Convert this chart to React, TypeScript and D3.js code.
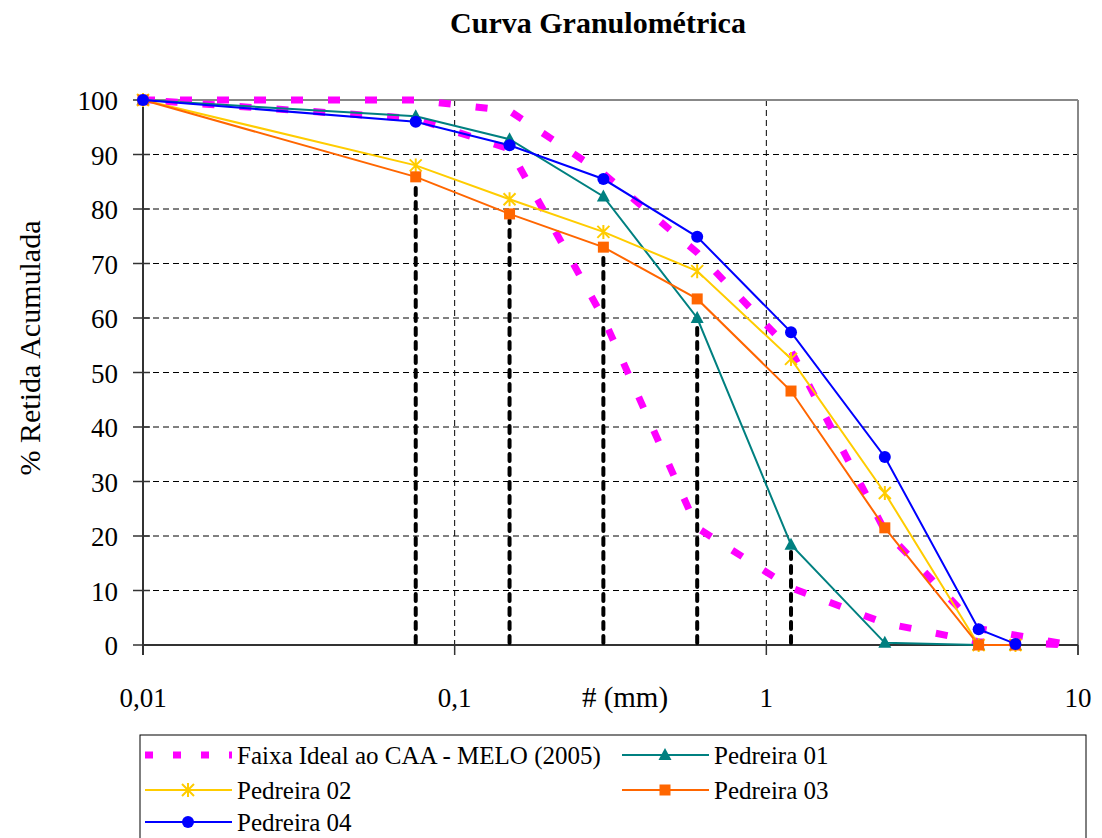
import React from 'react';
import * as d3 from 'd3';

// sieve openings (mm)
const sieves = [0.01, 0.075, 0.15, 0.3, 0.6, 1.2, 2.4, 4.8, 6.3];

const pedreira01 = [100, 97, 92.8, 82.3, 60, 18.4, 0.4, 0, 0];
const pedreira02 = [100, 88, 81.8, 75.8, 68.6, 52.5, 27.9, 0, 0];
const pedreira03 = [100, 85.9, 79.1, 73, 63.5, 46.6, 21.5, 0, 0];
const pedreira04 = [100, 96, 91.7, 85.5, 74.9, 57.4, 34.5, 2.9, 0.2];

// ideal band (upper and lower limits)
const faixaX = [0.01, 0.075, 0.15, 0.3, 0.6, 1.2, 2.4, 4.8, 9.5];
const faixaSup = [100, 100, 98, 86.5, 72, 54, 21, 3, 0];
const faixaInf = [100, 96.6, 91, 60, 21.5, 10.5, 4, 0.6, 0];

const dropSieves = [0.075, 0.15, 0.3, 0.6, 1.2];

const yTicks = [0, 10, 20, 30, 40, 50, 60, 70, 80, 90, 100];
const xTicks = [0.01, 0.1, 1, 10];
const xTickLabels = ['0,01', '0,1', '1', '10'];

const FONT = '"Liberation Serif", "Times New Roman", serif';

const series = [
  { name: 'Pedreira 01', values: pedreira01, color: '#008080', marker: 'triangle' },
  { name: 'Pedreira 02', values: pedreira02, color: '#FFCC00', marker: 'star' },
  { name: 'Pedreira 03', values: pedreira03, color: '#FF6600', marker: 'square' },
  { name: 'Pedreira 04', values: pedreira04, color: '#0000FF', marker: 'circle' },
];

function Marker({ type, x, y, color }: { type: string; x: number; y: number; color: string }) {
  if (type === 'circle') return <circle cx={x} cy={y} r={6} fill={color} />;
  if (type === 'square') return <rect x={x - 5.5} y={y - 5.5} width={11} height={11} fill={color} />;
  if (type === 'triangle')
    return <path d={`M${x},${y - 7}L${x + 6.5},${y + 5}L${x - 6.5},${y + 5}Z`} fill={color} />;
  const s = 6;
  return (
    <path
      d={`M${x - s},${y - s}L${x + s},${y + s}M${x - s},${y + s}L${x + s},${y - s}M${x},${y - s - 1}L${x},${y + s + 1}`}
      stroke={color}
      strokeWidth={2}
      fill="none"
    />
  );
}

export default function App() {
  const left = 143, right = 1078, top = 100, bottom = 645;

  const x = d3.scaleLog().domain([0.01, 10]).range([left, right]);
  const y = d3.scaleLinear().domain([0, 100]).range([bottom, top]);

  const line = d3
    .line<[number, number]>()
    .x(d => x(d[0]))
    .y(d => y(d[1]));

  const faixaPts: [number, number][] = [
    ...faixaX.map((v, i) => [v, faixaSup[i]] as [number, number]),
    ...faixaX.map((v, i) => [v, faixaInf[i]] as [number, number]).reverse(),
  ];

  const drops = dropSieves.map(s => {
    const i = sieves.indexOf(s);
    return { s, v: d3.min(series, d => d.values[i]) as number };
  });

  const legendRows = [
    { key: 'faixa', name: 'Faixa Ideal ao CAA - MELO (2005)', lx: 145, ty: 755 },
    { key: 's0', name: 'Pedreira 01', lx: 622, ty: 755, s: series[0] },
    { key: 's1', name: 'Pedreira 02', lx: 145, ty: 790, s: series[1] },
    { key: 's2', name: 'Pedreira 03', lx: 622, ty: 790, s: series[2] },
    { key: 's3', name: 'Pedreira 04', lx: 145, ty: 822, s: series[3] },
  ];

  return (
    <svg width={1102} height={838} style={{ position: 'absolute', left: 0, top: 0, background: '#fff' }} fontFamily={FONT}>
      <rect width={1102} height={838} fill="#fff" />
      <text x={598} y={33} textAnchor="middle" fontSize={30} fontWeight="bold">Curva Granulométrica</text>

      {/* grid */}
      {yTicks.filter(t => t > 0 && t < 100).map(t => (
        <line key={'gy' + t} x1={left} x2={right} y1={y(t)} y2={y(t)} stroke="#000" strokeWidth={1} strokeDasharray="6 4" />
      ))}
      {[0.1, 1].map(t => (
        <line key={'gx' + t} x1={x(t)} x2={x(t)} y1={top} y2={bottom} stroke="#000" strokeWidth={1} strokeDasharray="6 4" />
      ))}

      {/* frame */}
      <line x1={left} x2={right} y1={top} y2={top} stroke="#888" strokeWidth={2} />
      <line x1={right} x2={right} y1={top} y2={bottom + 10} stroke="#888" strokeWidth={2} />
      <line x1={left} x2={left} y1={top} y2={bottom + 10} stroke="#333" strokeWidth={2} />
      <line x1={left} x2={right} y1={bottom} y2={bottom} stroke="#333" strokeWidth={2} />
      {yTicks.map(t => (
        <g key={'ty' + t}>
          <line x1={left - 10} x2={left + 7} y1={y(t)} y2={y(t)} stroke="#333" strokeWidth={1.5} />
          <text x={118} y={y(t) + 10} textAnchor="end" fontSize={27}>{t}</text>
        </g>
      ))}
      {xTicks.map((t, i) => (
        <g key={'tx' + t}>
          <line x1={x(t)} x2={x(t)} y1={bottom} y2={bottom + 10} stroke="#333" strokeWidth={1.5} />
          <text x={x(t)} y={707} textAnchor="middle" fontSize={27}>{xTickLabels[i]}</text>
        </g>
      ))}
      <text x={625} y={707} textAnchor="middle" fontSize={29}># (mm)</text>
      <text transform="translate(40,348) rotate(-90)" textAnchor="middle" fontSize={30}>% Retida Acumulada</text>

      {/* drop lines */}
      {drops.map(d => (
        <line key={'dr' + d.s} x1={x(d.s)} x2={x(d.s)} y1={y(0) - 2} y2={y(d.v) + 6} stroke="#000" strokeWidth={4}
          strokeDasharray="7 7" strokeLinecap="round" />
      ))}

      {/* ideal band */}
      <path d={line(faixaPts) ?? ''} fill="none" stroke="#FF00FF" strokeWidth={7} strokeDasharray="12 25" />

      {series.map(s => (
        <path key={s.name} d={line(sieves.map((v, i) => [v, s.values[i]] as [number, number])) ?? ''}
          fill="none" stroke={s.color} strokeWidth={2} />
      ))}
      {series.map(s => (
        <g key={'m' + s.name}>
          {sieves.map((v, i) => (
            <Marker key={i} type={s.marker} x={x(v)} y={y(s.values[i])} color={s.color} />
          ))}
        </g>
      ))}

      {/* legend */}
      <rect x={140} y={735} width={946} height={110} fill="#fff" stroke="#000" strokeWidth={1} />
      {legendRows.map(r => (
        <g key={r.key}>
          {r.s ? (
            <>
              <line x1={r.lx} x2={r.lx + 87} y1={r.ty} y2={r.ty} stroke={r.s.color} strokeWidth={2} />
              <Marker type={r.s.marker} x={r.lx + 43} y={r.ty} color={r.s.color} />
            </>
          ) : (
            <line x1={r.lx} x2={r.lx + 87} y1={r.ty} y2={r.ty} stroke="#FF00FF" strokeWidth={7} strokeDasharray="8 20" />
          )}
          <text x={r.lx + 92} y={r.ty + 9} fontSize={25}>{r.name}</text>
        </g>
      ))}
    </svg>
  );
}
